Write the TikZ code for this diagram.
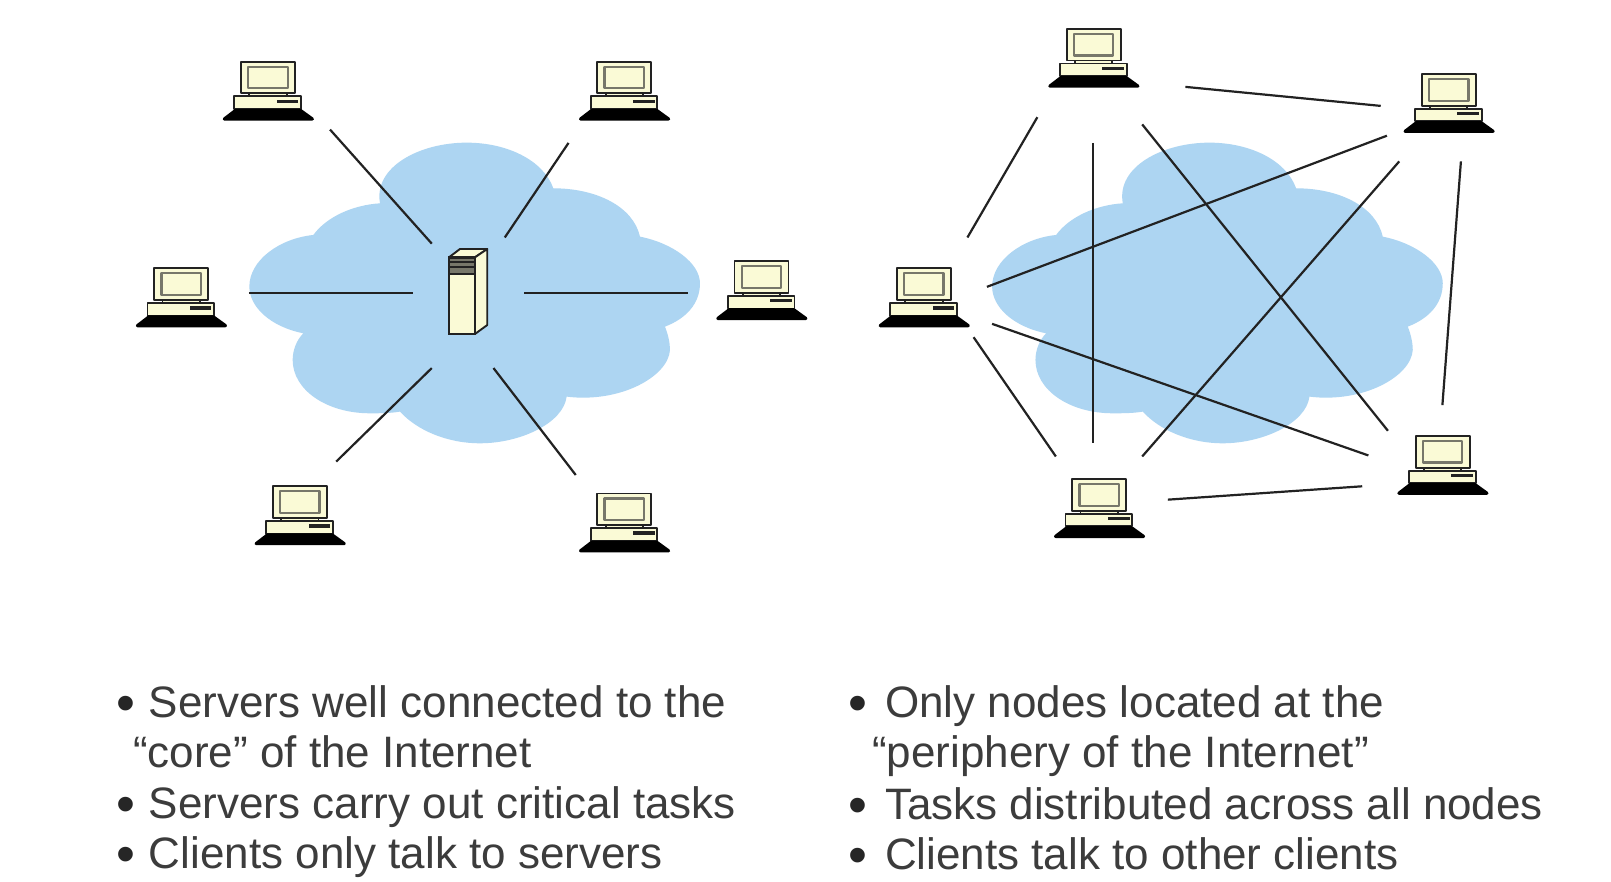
\documentclass[tikz,border=0pt]{standalone}
\usepackage{fontspec}
\setmainfont{Liberation Sans}
\definecolor{cloudblue}{HTML}{ADD5F2}
\definecolor{cream}{HTML}{FAFAD6}
\definecolor{inkdark}{HTML}{222222}
\definecolor{textgray}{HTML}{3C3C3C}
\definecolor{stripe}{HTML}{77776A}
\tikzset{
  link/.style={draw=inkdark,line width=1.1pt},
  cloudshape/.style={fill=cloudblue,draw=none},
  txt/.style={inner sep=0pt,anchor=base west,text=textgray,font=\fontsize{22}{26}\selectfont},
  bulletmark/.style={inner sep=0pt,anchor=base west,text=black!85,font=\fontsize{27}{30}\selectfont},
  part/.style={draw=inkdark,line width=0.95pt,fill=cream,line join=round},
  computer/.pic={
    \begin{scope}[scale=0.3242]
      \draw[part] (-82,0) rectangle (80,95);
      \draw[part,draw=stripe,line width=1.1pt] (-60,15) rectangle (58,80);
      \draw[part] (-57,95) rectangle (55,104);
      \draw[part] (-102,104) rectangle (98,142);
      \fill[inkdark] (25,114) rectangle (90,124);
      \fill[black,draw=black,line width=1.6pt,line join=round] (-98,146) -- (96,146) -- (132,172) -- (-132,172) -- cycle;
    \end{scope}
  },
  serverbox/.pic={
    \begin{scope}[scale=0.3242]
      \draw[part] (0,0) -- (33,-25) -- (115,-25) -- (78,0) -- cycle;
      \draw[part] (78,0) -- (115,-25) -- (115,203) -- (78,230) -- cycle;
      \draw[part] (0,0) rectangle (78,230);
      \fill[stripe] (0,3) rectangle (78,50);
      \draw[inkdark,line width=0.95pt] (0,3) -- (78,3);
      \draw[inkdark,line width=1.1pt] (0,13) -- (78,13) (0,30) -- (78,30) (0,49) -- (78,49);
      \draw[inkdark,line width=0.95pt] (0,0) rectangle (78,230);
    \end{scope}
  },
  cloudpic/.pic={
    \begin{scope}[scale=0.3242]
      \path[cloudshape] (480,250) .. controls (460,140) and (600,68) .. (740,68)
        .. controls (860,68) and (970,120) .. (1000,205)
        .. controls (1130,205) and (1240,260) .. (1260,350)
        .. controls (1360,370) and (1440,430) .. (1440,490)
        .. controls (1440,550) and (1400,595) .. (1335,620)
        .. controls (1345,645) and (1350,670) .. (1350,690)
        .. controls (1345,770) and (1200,850) .. (1040,830)
        .. controls (1030,910) and (900,970) .. (780,970)
        .. controls (680,970) and (590,930) .. (540,875)
        .. controls (510,880) and (480,880) .. (450,880)
        .. controls (320,880) and (218,810) .. (218,720)
        .. controls (218,690) and (230,660) .. (250,640)
        .. controls (150,620) and (88,560) .. (88,500)
        .. controls (88,420) and (180,355) .. (280,345)
        .. controls (320,290) and (400,255) .. (480,250) -- cycle;
    \end{scope}
  }
}
\begin{document}
\begin{tikzpicture}[x=0.5140pt,y=-0.5140pt]
\useasboundingbox (0,0) rectangle (1567,857);
\fill[white] (0,0) rectangle (1567,857);
\pic at (214,116.7) {cloudpic};
\pic at (936.5,116.7) {cloudpic};
% free ends of the connectors
\foreach \n/\x/\y in {
 a1/321/126,a2/420/237,b1/553/139,b2/491/231,c1/242/285,c2/402/285,d1/510/285,d2/669/285,
 e1/420/358,e2/327/449,f1/480/358,f2/560/462,
 g1/1153/84.5,g2/1343/103,h1/1009/114,h2/941/231,i1/1063/139,i2/1063/431,j1/1111/121,j2/1350/419,
 k1/1349/132,k2/960/279,l1/1361/157,l2/1111/444,m1/1421/157,m2/1403/394,n1/965/315,n2/1331/443,
 o1/947/328,o2/1027/444,p1/1136/486,p2/1325/473}
  {\coordinate (\n) at (\x,\y);}
\foreach \u/\v in {a1/a2,b1/b2,c1/c2,d1/d2,e1/e2,f1/f2,g1/g2,h1/h2,i1/i2,j1/j2,k1/k2,l1/l2,m1/m2,n1/n2,o1/o2,p1/p2}
  {\draw[link] (\u) -- (\v);}
\pic at (436.7,250.3) {serverbox};
\foreach \x/\y in {261/60,607.5/60,176.5/261,741/254,292/473,607.5/480,1064/28,1409.5/72,899/261,1403.5/424,1069.5/466}
  {\pic at (\x,\y) {computer};}
\node[bulletmark] (lb1) at (113,702) {•};
\node[txt] (lt1) at (144.5,698) {Servers well connected to the};
\node[txt] (lt2) at (129,747) {“core” of the Internet};
\node[bulletmark] (lb3) at (113,800) {•};
\node[txt] (lt3) at (144.5,796) {Servers carry out critical tasks};
\node[bulletmark] (lb4) at (113,849) {•};
\node[txt] (lt4) at (144.5,845) {Clients only talk to servers};
\node[bulletmark] (rb1) at (825,702) {•};
\node[txt] (rt1) at (860.5,698) {Only nodes located at the};
\node[txt] (rt2) at (848,747) {“periphery of the Internet”};
\node[bulletmark] (rb3) at (825,801) {•};
\node[txt] (rt3) at (860.5,797) {Tasks distributed across all nodes};
\node[bulletmark] (rb4) at (825,850) {•};
\node[txt] (rt4) at (860.5,846) {Clients talk to other clients};
\end{tikzpicture}
\end{document}
